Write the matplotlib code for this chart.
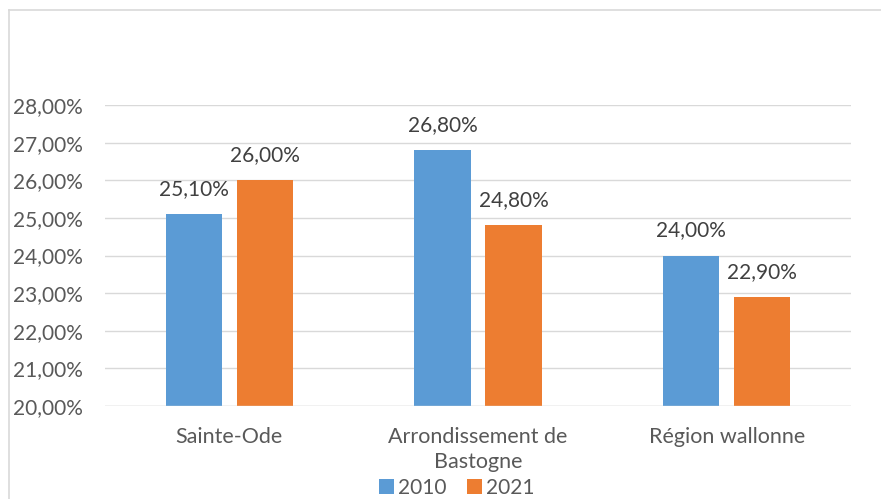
import matplotlib
matplotlib.use("Agg")
import matplotlib.pyplot as plt
from matplotlib.lines import Line2D
from matplotlib.patches import Patch
import numpy as np

categories = ["Sainte-Ode", "Arrondissement de\nBastogne", "Région wallonne"]
series_names = ["2010", "2021"]
values_2010 = [25.10, 26.80, 24.00]
values_2021 = [26.00, 24.80, 22.90]
yticks = [20, 21, 22, 23, 24, 25, 26, 27, 28]

colors = ["#5B9BD5", "#ED7D31"]
text_color = "#595959"
plt.rcParams['font.family'] = ['Lato', 'DejaVu Sans']
FS = 15

W, H = 881, 499
fig = plt.figure(figsize=(W/100, H/100), dpi=100)
ax = fig.add_axes([105/W, 1-406/H, (851-105)/W, (406-105)/H])

x = np.arange(len(categories))
bw = 0.226
off = 0.143
for vals, c, o in [(values_2010, colors[0], -off), (values_2021, colors[1], off)]:
    bars = ax.bar(x + o, [v - 20 for v in vals], bottom=20, width=bw, color=c, zorder=3)
    for b, v in zip(bars, vals):
        ax.text(b.get_x() + b.get_width()/2, v + 0.4, f"{v:.2f}".replace(".", ",") + "%",
                ha="center", va="bottom", fontsize=FS, color="#404040")

ax.set_xlim(-0.5, 2.5)
ax.set_ylim(20, 28)
ax.set_yticks(yticks)
ax.set_yticklabels([f"{t:.2f}".replace(".", ",") + "%" for t in yticks], fontsize=FS, color=text_color)
ax.set_xticks(x)
ax.set_xticklabels(categories, fontsize=15.5, color=text_color, linespacing=1.3)
ax.tick_params(axis="both", length=0)
ax.tick_params(axis="y", pad=16)
ax.tick_params(axis="x", pad=15)
ax.yaxis.grid(True, color="#D9D9D9", linewidth=1, zorder=0)
for s in ax.spines.values():
    s.set_visible(False)
ax.axhline(20, color="#D9D9D9", linewidth=1, zorder=4)

handles = [Patch(facecolor=c) for c in colors]
fig.legend(handles, series_names, loc="center", bbox_to_anchor=(457/W, 1-488/H), ncol=2,
           frameon=False, fontsize=FS, labelcolor=text_color, handlelength=0.7, handleheight=0.7,
           handletextpad=0.2, columnspacing=1.0, borderpad=0)

# chart frame
fig.add_artist(Line2D([9/W, 1], [1-10/H, 1-10/H], transform=fig.transFigure, color="#D9D9D9", linewidth=1.2))
fig.add_artist(Line2D([9/W, 9/W], [0, 1-10/H], transform=fig.transFigure, color="#D9D9D9", linewidth=1.2))

fig.savefig("out.png", dpi=100)
